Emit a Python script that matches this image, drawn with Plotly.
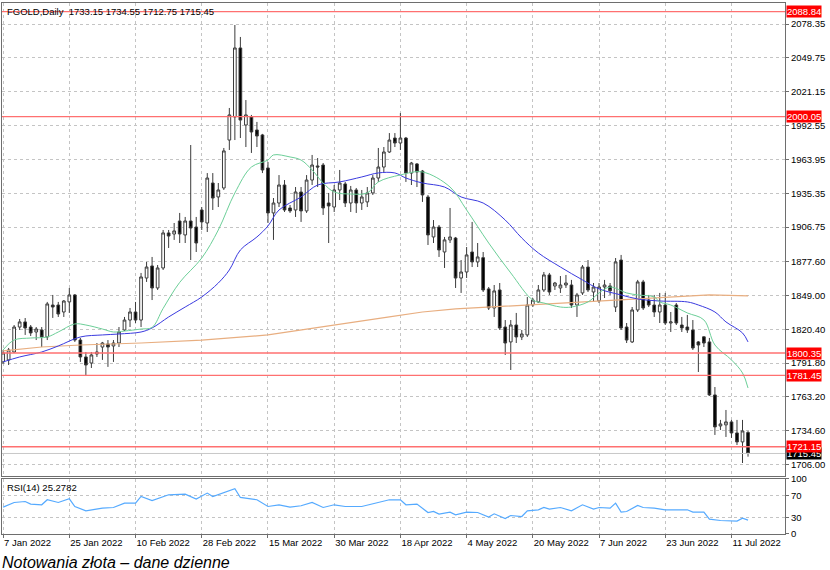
import plotly.graph_objs as go

# daily candles, bar index 0 = 7 Jan 2022
opens = [1792.8, 1794.5, 1801.2, 1822.3, 1826.6, 1822.3, 1818.1, 1819.8, 1813.9, 1840.9,
         1840.9, 1835.0, 1843.5, 1849.4, 1811.3, 1797.0, 1791.9, 1799.5, 1805.4, 1808.0,
         1806.3, 1808.8, 1819.8, 1828.2, 1835.0, 1828.2, 1863.7, 1873.9, 1855.3, 1872.2,
         1901.8, 1900.9, 1911.9, 1900.1, 1911.9, 1906.8, 1921.2, 1910.2, 1944.0, 1932.2,
         1939.8, 1980.3, 1999.8, 2058.1, 1993.0, 1999.8, 1988.8, 1984.6, 1956.7, 1918.7,
         1927.1, 1942.3, 1922.9, 1921.2, 1936.4, 1920.4, 1946.5, 1958.4, 1959.2, 1927.1,
         1923.7, 1938.1, 1943.2, 1927.1, 1938.1, 1927.1, 1928.0, 1935.6, 1948.2, 1957.5,
         1970.2, 1982.0, 1977.8, 1982.0, 1952.4, 1960.1, 1954.1, 1932.2, 1898.4, 1906.8,
         1885.7, 1895.9, 1897.5, 1863.7, 1868.8, 1885.7, 1877.3, 1880.9, 1854.5, 1838.4,
         1853.6, 1822.3, 1809.7, 1824.0, 1813.9, 1815.6, 1840.9, 1843.5, 1853.6, 1866.3,
         1857.0, 1855.3, 1857.8, 1857.8, 1840.9, 1851.1, 1873.0, 1851.9, 1844.4, 1856.1,
         1857.0, 1839.2, 1878.9, 1822.3, 1809.7, 1836.7, 1860.4, 1845.1, 1840.9, 1835.0,
         1840.9, 1825.7, 1840.9, 1824.0, 1822.3, 1819.8, 1809.7, 1814.0, 1809.7, 1764.9,
         1738.7, 1739.6, 1742.1, 1732.8, 1725.2, 1733.15]
highs = [1802.9, 1804.6, 1824.0, 1829.1, 1829.9, 1824.0, 1822.3, 1822.3, 1843.5, 1849.4,
         1843.5, 1845.1, 1855.3, 1850.2, 1813.1, 1801.2, 1801.2, 1808.8, 1809.7, 1811.3,
         1811.3, 1822.3, 1830.8, 1838.4, 1843.5, 1868.0, 1877.3, 1881.5, 1874.7, 1904.3,
         1904.3, 1910.2, 1918.7, 1915.3, 1976.1, 1915.3, 1923.7, 1952.4, 1952.4, 1944.0,
         1973.6, 2007.4, 2077.5, 2067.4, 2014.1, 2001.5, 1995.6, 1985.5, 1961.8, 1931.3,
         1950.7, 1946.5, 1925.4, 1940.6, 1940.6, 1950.7, 1967.7, 1965.1, 1960.9, 1935.6,
         1942.3, 1955.0, 1944.9, 1941.5, 1939.8, 1938.1, 1940.6, 1950.7, 1973.6, 1974.4,
         1986.2, 1986.2, 2003.1, 1982.9, 1961.8, 1960.9, 1955.0, 1933.9, 1912.7, 1908.5,
         1898.4, 1922.9, 1898.4, 1878.9, 1889.9, 1911.1, 1893.3, 1885.7, 1856.1, 1857.8,
         1859.5, 1828.2, 1828.2, 1834.2, 1819.8, 1847.7, 1846.8, 1857.8, 1868.8, 1868.0,
         1860.4, 1865.4, 1866.3, 1862.1, 1851.1, 1874.7, 1878.9, 1859.5, 1859.5, 1862.1,
         1859.5, 1880.6, 1883.2, 1825.7, 1839.2, 1862.1, 1862.1, 1849.4, 1849.4, 1851.1,
         1851.1, 1835.0, 1842.6, 1830.8, 1832.5, 1828.2, 1810.5, 1814.5, 1813.1, 1771.6,
         1743.8, 1752.2, 1743.8, 1743.8, 1743.8, 1734.55]
lows = [1791.1, 1790.2, 1800.4, 1819.8, 1815.6, 1814.7, 1811.3, 1805.4, 1811.3, 1830.0,
        1830.8, 1830.8, 1834.2, 1809.7, 1792.8, 1780.9, 1787.7, 1797.0, 1794.5, 1788.6,
        1792.8, 1805.4, 1818.9, 1822.3, 1825.7, 1822.3, 1860.4, 1845.1, 1853.6, 1870.5,
        1889.1, 1895.9, 1893.3, 1893.3, 1878.9, 1885.7, 1904.3, 1902.6, 1921.2, 1923.7,
        1938.1, 1971.9, 1980.3, 1982.0, 1974.4, 1969.4, 1974.4, 1952.4, 1910.2, 1895.9,
        1923.7, 1919.5, 1918.7, 1915.3, 1911.1, 1918.7, 1942.3, 1940.6, 1917.0, 1893.3,
        1919.5, 1929.6, 1923.7, 1919.5, 1918.7, 1921.2, 1923.7, 1933.9, 1944.9, 1953.3,
        1969.4, 1974.4, 1971.9, 1944.9, 1942.3, 1940.6, 1928.0, 1891.6, 1893.3, 1881.5,
        1872.2, 1893.3, 1855.3, 1851.1, 1863.7, 1873.0, 1873.0, 1851.9, 1836.7, 1830.8,
        1819.8, 1798.7, 1786.0, 1808.8, 1811.3, 1813.9, 1839.2, 1842.6, 1851.9, 1849.4,
        1853.6, 1851.1, 1855.3, 1838.4, 1830.8, 1849.4, 1851.9, 1843.5, 1842.6, 1846.8,
        1849.4, 1835.0, 1819.8, 1808.8, 1808.8, 1835.0, 1836.7, 1839.2, 1830.8, 1825.7,
        1824.0, 1818.1, 1824.0, 1818.1, 1817.3, 1802.9, 1784.3, 1805.4, 1764.0, 1731.1,
        1735.3, 1729.4, 1728.6, 1722.6, 1707.4, 1712.75]
closes = [1800.4, 1802.9, 1822.3, 1826.6, 1821.5, 1817.3, 1820.6, 1813.9, 1841.8, 1839.2,
          1833.3, 1844.3, 1849.4, 1811.3, 1797.0, 1790.2, 1798.7, 1801.2, 1808.8, 1805.4,
          1808.8, 1818.1, 1828.2, 1835.0, 1828.2, 1864.6, 1873.0, 1855.3, 1872.2, 1901.8,
          1899.2, 1903.5, 1900.9, 1911.9, 1906.0, 1893.3, 1911.1, 1948.2, 1931.3, 1938.1,
          1971.1, 2001.5, 2058.1, 1997.2, 2001.5, 1987.1, 1983.7, 1955.0, 1918.7, 1927.1,
          1942.3, 1921.2, 1920.4, 1936.4, 1920.4, 1946.5, 1959.2, 1957.5, 1922.9, 1924.6,
          1938.1, 1944.0, 1927.1, 1938.1, 1927.1, 1932.2, 1935.6, 1948.2, 1957.5, 1970.2,
          1980.3, 1977.8, 1982.0, 1952.4, 1960.9, 1953.3, 1933.9, 1900.1, 1906.8, 1887.4,
          1895.9, 1898.4, 1863.7, 1868.8, 1883.2, 1877.3, 1881.5, 1853.6, 1838.4, 1852.8,
          1821.5, 1808.8, 1824.0, 1813.9, 1816.4, 1840.9, 1845.1, 1853.6, 1866.3, 1851.9,
          1859.5, 1857.8, 1859.5, 1840.9, 1849.4, 1873.0, 1853.6, 1856.1, 1856.1, 1857.8,
          1853.0, 1877.3, 1821.5, 1811.3, 1836.7, 1860.4, 1838.4, 1840.9, 1835.0, 1840.9,
          1825.7, 1826.6, 1825.7, 1821.5, 1819.8, 1804.6, 1807.1, 1808.8, 1764.9, 1737.9,
          1740.4, 1742.1, 1732.8, 1725.2, 1734.5, 1715.45]
bars = list(range(len(closes)))

# moving averages (bar index, value)
ma_fast_bars = [0, 2, 5, 8, 10, 13, 15, 18, 20, 22, 25, 27, 29, 32, 36, 39, 42, 45, 48, 49,
                52, 54, 56, 58, 60, 63, 66, 68, 72, 76, 81, 84, 88, 92, 96, 98, 101, 103,
                106, 108, 110, 113, 115, 118, 119, 121, 124, 127, 129, 132, 134, 135]
ma_fast_vals = [1802.9, 1811.3, 1813.0, 1813.9, 1818.1, 1824.9, 1824.0, 1820.6, 1818.1, 1818.9,
                1820.6, 1822.0, 1838.0, 1860.0, 1880.6, 1904.3, 1935.6, 1957.5, 1963.4, 1967.7,
                1966.0, 1963.4, 1955.0, 1944.0, 1936.4, 1934.7, 1935.6, 1944.9, 1950.8, 1953.3,
                1940.6, 1921.2, 1893.3, 1868.0, 1845.1, 1842.6, 1839.2, 1839.2, 1843.5, 1851.1,
                1856.1, 1851.1, 1849.4, 1847.7, 1843.5, 1840.9, 1834.2, 1828.3, 1807.1, 1794.5,
                1783.5, 1770.8]
ma_mid_bars = [0, 3, 7, 10, 14, 18, 21, 25, 27, 30, 33, 36, 39, 41, 43, 46, 48, 50, 54, 57,
               61, 65, 68, 71, 73, 76, 80, 83, 87, 91, 94, 97, 101, 105, 108, 112, 115, 119,
               124, 126, 129, 131, 134, 135]
ma_mid_vals = [1792.8, 1797.0, 1801.2, 1806.3, 1813.9, 1815.6, 1816.4, 1818.1, 1821.5, 1830.8,
               1839.2, 1847.7, 1859.5, 1870.5, 1887.4, 1898.4, 1907.7, 1921.2, 1932.2, 1942.3,
               1944.9, 1949.1, 1952.5, 1952.5, 1948.2, 1944.0, 1940.6, 1932.2, 1927.1, 1912.7,
               1897.5, 1884.9, 1873.0, 1862.1, 1854.5, 1849.4, 1846.0, 1844.3, 1843.5, 1840.9,
               1835.0, 1826.6, 1817.3, 1809.7]
ma_slow_bars = [0, 7, 14, 25, 36, 48, 70, 76, 82, 88, 96, 106, 118, 123, 128, 135]
ma_slow_vals = [1802.1, 1805.4, 1807.1, 1808.8, 1811.3, 1815.6, 1830.8, 1835.0, 1837.6, 1839.2,
                1840.9, 1843.5, 1846.9, 1848.6, 1849.4, 1848.6]

rsi_bars = [0, 2, 4, 5, 7, 8, 10, 12, 13, 15, 18, 20, 22, 24, 25, 27, 30, 33, 35, 37, 38, 42,
            43, 46, 48, 50, 52, 54, 56, 58, 60, 62, 65, 68, 70, 72, 73, 75, 77, 78, 79, 81,
            82, 84, 86, 88, 89, 91, 92, 94, 95, 97, 98, 99, 101, 103, 105, 107, 108, 110,
            111, 112, 113, 115, 116, 118, 120, 124, 125, 127, 128, 130, 133, 134, 135]
rsi_vals = [48.9, 57.3, 59.1, 54.4, 53.1, 62.2, 57.3, 64.0, 50.0, 42.2, 47.1, 48.2, 56.2, 56.2,
            68.2, 60.9, 71.3, 72.5, 63.5, 74.4, 68.2, 82.2, 66.4, 62.2, 50.0, 53.1, 48.9, 51.3,
            57.3, 48.2, 53.1, 50.0, 50.0, 57.3, 62.2, 62.2, 53.1, 54.4, 39.1, 40.9, 36.2, 39.8,
            34.9, 39.8, 39.1, 30.7, 36.7, 28.2, 33.6, 31.8, 42.2, 44.0, 48.2, 45.3, 48.2, 42.2,
            53.1, 45.3, 48.2, 47.1, 56.2, 39.8, 40.9, 51.8, 48.2, 47.1, 44.0, 44.0, 39.8, 39.8,
            27.1, 24.5, 23.5, 28.9, 25.28]

# axis labels
date_ticks = [0, 12, 24, 36, 48, 60, 72, 84, 96, 108, 120, 132]
date_labels = ["7 Jan 2022", "25 Jan 2022", "10 Feb 2022", "28 Feb 2022", "15 Mar 2022",
               "30 Mar 2022", "18 Apr 2022", "4 May 2022", "20 May 2022", "7 Jun 2022",
               "23 Jun 2022", "11 Jul 2022"]
price_ticks = [2078.35, 2049.75, 2021.15, 1992.55, 1963.95, 1935.35, 1906.75, 1877.60,
               1849.00, 1820.40, 1791.80, 1763.20, 1734.60, 1706.00]
levels = [2088.84, 2000.05, 1800.35, 1781.45, 1721.15]
last_price = 1715.45

FONT = "Tahoma, Liberation Sans, Arial, sans-serif"
FRAME = "#6e6e6e"
GRID = "#c4c4c4"

fig = go.Figure()
fig.add_trace(go.Candlestick(
    x=bars, open=opens, high=highs, low=lows, close=closes,
    increasing=dict(fillcolor="white", line=dict(color="#3c3c3c", width=1)),
    decreasing=dict(fillcolor="black", line=dict(color="#3c3c3c", width=1)),
    whiskerwidth=0, xaxis="x", yaxis="y", showlegend=False, hoverinfo="skip"))
fig.add_trace(go.Scatter(x=ma_slow_bars, y=ma_slow_vals, mode="lines", line=dict(color="#e8ae80", width=1.2),
                         xaxis="x", yaxis="y", showlegend=False))
fig.add_trace(go.Scatter(x=ma_mid_bars, y=ma_mid_vals, mode="lines", line=dict(color="#3a3adf", width=1),
                         line_shape="spline", xaxis="x", yaxis="y", showlegend=False))
fig.add_trace(go.Scatter(x=ma_fast_bars, y=ma_fast_vals, mode="lines", line=dict(color="#6ccf98", width=1),
                         line_shape="spline", xaxis="x", yaxis="y", showlegend=False))
fig.add_trace(go.Scatter(x=rsi_bars, y=rsi_vals, mode="lines", line=dict(color="#55aaff", width=1.2),
                         xaxis="x2", yaxis="y2", showlegend=False))

# current price line first, so the red level tags sit above its tag
fig.add_shape(type="line", xref="x domain", yref="y", x0=0, x1=1, y0=last_price, y1=last_price,
              line=dict(color="#c8c8c8", width=1))
fig.add_annotation(xref="paper", yref="y", x=1, y=last_price, xanchor="left", xshift=1,
                   text="%.2f" % last_price, showarrow=False, bgcolor="black", borderpad=0,
                   font=dict(family=FONT, size=9.5, color="white"))

# horizontal levels
for lv in levels:
    fig.add_shape(type="line", xref="x domain", yref="y", x0=0, x1=1, y0=lv, y1=lv,
                  line=dict(color="#ff7070", width=1.3), layer="above")
    fig.add_annotation(xref="paper", yref="y", x=1, y=lv, xanchor="left", xshift=1,
                       text="%.2f" % lv, showarrow=False, bgcolor="#ff0000", borderpad=0,
                       font=dict(family=FONT, size=9.5, color="white"))

fig.add_annotation(xref="paper", yref="paper", x=0, y=1, xanchor="left", yanchor="top",
                   xshift=3, yshift=-1, showarrow=False,
                   text="FGOLD,Daily  %.2f %.2f %.2f %.2f" % (opens[-1], highs[-1], lows[-1], closes[-1]),
                   font=dict(family=FONT, size=9.5, color="black"))
fig.add_annotation(xref="paper", yref="y2 domain", x=0, y=1, xanchor="left", yanchor="top",
                   xshift=3, yshift=-1, showarrow=False,
                   text="RSI(14) %.4f" % 25.2782,
                   font=dict(family=FONT, size=9.5, color="black"))
fig.add_annotation(xref="paper", yref="paper", x=0, y=0, xanchor="left", yanchor="top",
                   xshift=-2, yshift=-18, showarrow=False,
                   text="<i>Notowania złota – dane dzienne</i>",
                   font=dict(family="Liberation Sans, Arial, sans-serif", size=16, color="black"))

axis_common = dict(showline=True, mirror=True, linecolor=FRAME, linewidth=1, automargin=False,
                   showgrid=True, gridcolor=GRID, griddash="dot", gridwidth=1, zeroline=False)

fig.update_layout(
    width=830, height=570,
    margin=dict(l=2, r=45, t=3, b=36, autoexpand=False),
    paper_bgcolor="white", plot_bgcolor="white",
    showlegend=False,
    xaxis=dict(domain=[0, 1], anchor="y", range=[-0.2, 141.7], tickvals=date_ticks,
               showticklabels=False, ticks="", rangeslider=dict(visible=False), **axis_common),
    xaxis2=dict(domain=[0, 1], anchor="y2", matches="x", range=[-0.2, 141.7], tickvals=date_ticks,
                ticktext=date_labels, ticks="outside", ticklen=3, tickcolor=FRAME,
                ticklabelposition="outside right",
                tickfont=dict(family=FONT, size=9.5, color="black"), **axis_common),
    yaxis=dict(domain=[0.1092, 1], anchor="x", side="right", range=[1696.4, 2096.1],
               tickvals=price_ticks, ticktext=["%.2f" % v for v in price_ticks],
               ticks="outside", ticklen=3, tickcolor=FRAME,
               tickfont=dict(family=FONT, size=9.5, color="black"), **axis_common),
    yaxis2=dict(domain=[0, 0.1036], anchor="x2", side="right", range=[0, 100],
                tickvals=[100, 70, 30, 0], ticktext=["100", "70", "30", "0"],
                ticks="outside", ticklen=3, tickcolor=FRAME,
                tickfont=dict(family=FONT, size=9.5, color="black"), **axis_common),
)

# the page body has a default 8px margin; drop it so the figure sits at the window corner
fig.write_html("out.html", config={"displayModeBar": False},
               post_script="document.body.style.margin='0';")
